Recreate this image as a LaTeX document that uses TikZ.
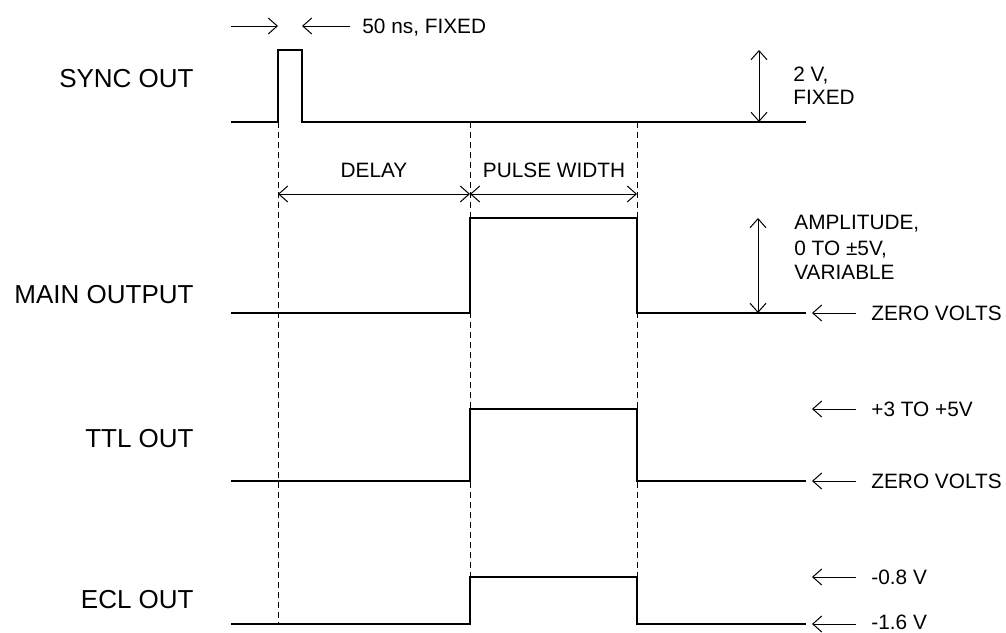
\documentclass[tikz,border=0pt]{standalone}
\usepackage{fontspec}
\setmainfont{Liberation Sans}
\usetikzlibrary{arrows.meta}

\tikzset{
  barb/.tip={Straight Barb[length=4.5pt,width=8pt]},
  sig/.style={line width=0.6pt},
  guide/.style={line width=0.5pt,dash pattern=on 3pt off 2pt},
  dim/.style={line width=0.5pt,barb-barb},
  ptr/.style={line width=0.5pt,-barb},
  lbl/.style={anchor=east,inner sep=0pt,font=\fontsize{13}{15}\selectfont},
  note/.style={anchor=west,inner sep=0pt,text depth=0pt,font=\fontsize{10.4}{12}\selectfont}
}

\begin{document}
\begin{tikzpicture}[x=0.5pt,y=-0.5pt]
	\useasboundingbox (0,0) rectangle (1006,632);

	\foreach \y/\name/\txt in {79/sync/SYNC OUT,295/main/MAIN OUTPUT,439/ttl/TTL OUT,600/ecl/ECL OUT}
		\node[lbl] (\name) at (194,\y) {\txt};

	\draw[sig] (231,122) -- (278,122) -- (278,50) -- (302,50) -- (302,122) -- (806,122);
	\foreach \lo/\hi in {313/218,481/409,624/577}
		\draw[sig] (231,\lo) -- (470,\lo) -- (470,\hi) -- (637,\hi) -- (637,\lo) -- (806,\lo);

	\foreach \x in {278,470,637}
		\draw[guide] (\x,122) -- (\x,624);

	\node[note] (fixed) at (362,26) {50 ns, FIXED};
	\draw[ptr] (231,26) -- (278,26);
	\draw[ptr] ([xshift=-6pt]fixed.west) -- (302,26);

	\node[note,anchor=center] (delay) at (374,170) {DELAY};
	\node[note,anchor=center] (pw) at (554,170) {PULSE WIDTH};
	\draw[dim] (278,194) -- (470,194);
	\draw[dim] (470,194) -- (637,194);

	\draw[dim] (759,50) -- (759,122);
	\foreach \y/\txt in {74/{2 V,},97/FIXED}
		\node[note] at (793,\y) {\txt};

	\draw[dim] (758,218) -- (758,313);
	\foreach \y/\txt in {222/{AMPLITUDE,},248/{0 TO ±5V,},272/VARIABLE}
		\node[note] at (794,\y) {\txt};

	\foreach \y/\txt in {313/ZERO VOLTS,409/+3 TO +5V,481/ZERO VOLTS,577/-0.8 V,624/-1.6 V}{
		\node[note] (lvl\y) at (871,{min(\y,622)}) {\txt};
		\draw[ptr] ([xshift=-7.5pt]lvl\y.west |- 0,\y) -- (812,\y);
	}
\end{tikzpicture}
\end{document}
